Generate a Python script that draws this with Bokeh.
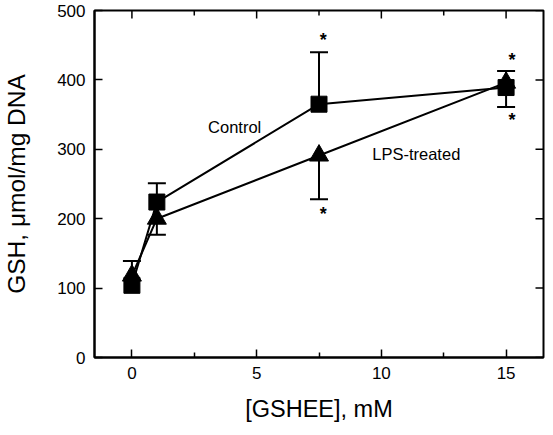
import math
from bokeh.plotting import figure
from bokeh.models import ColumnDataSource, Whisker, TeeHead, FixedTicker
from bokeh.core.properties import value
from bokeh.embed import file_html
from bokeh.resources import INLINE

# ---- data ----
conc = [0, 1, 7.5, 15]
control = [104, 224, 365, 389]
control_err_up = [35, 27, 75, 24]
lps = [118, 200, 291, 396]
lps_err_down = [0, 23, 63, 35]

star_x = [7.67, 7.67, 15.24, 15.24]
star_y = [458, 207, 428, 342]

label_text = ["Control", "LPS-treated"]
label_x = [4.12, 11.4]
label_y = [332, 293]

x_ticks = [0, 5, 10, 15]
x_minor = [2.5, 7.5, 12.5]
y_ticks = [0, 100, 200, 300, 400, 500]
X_RANGE = (-1.5, 16.5)
Y_RANGE = (0, 500)

FONT = "Liberation Sans"

p = figure(width=545, height=427, x_range=X_RANGE, y_range=Y_RANGE,
           output_backend="svg", toolbar_location=None,
           min_border_left=93, min_border_right=2, min_border_top=10, min_border_bottom=70)
p.xgrid.visible = False
p.ygrid.visible = False
p.outline_line_color = "black"
p.outline_line_width = 2
p.background_fill_color = "white"
p.border_fill_color = "white"

for ax in (p.xaxis[0], p.yaxis[0]):
    ax.axis_line_width = 2
    ax.major_tick_in = 8
    ax.major_tick_out = 0
    ax.minor_tick_in = 5
    ax.minor_tick_out = 0
    ax.major_tick_line_width = 1.5
    ax.minor_tick_line_width = 1.5
    ax.major_label_text_font = FONT
    ax.major_label_text_font_size = "17px"
    ax.major_label_text_color = "black"
    ax.axis_label_text_font = FONT
    ax.axis_label_text_font_style = "normal"
    ax.axis_label_text_color = "black"

p.xaxis[0].ticker = FixedTicker(ticks=x_ticks, minor_ticks=x_minor)
p.yaxis[0].ticker = FixedTicker(ticks=y_ticks, minor_ticks=[])
p.xaxis[0].axis_label = "[GSHEE], mM"
p.yaxis[0].axis_label = "GSH, μmol/mg DNA"
p.xaxis[0].axis_label_text_font_size = "23.5px"
p.yaxis[0].axis_label_text_font_size = "24.5px"
p.xaxis[0].major_label_standoff = 9
p.yaxis[0].major_label_standoff = 9
p.xaxis[0].axis_label_standoff = 14
p.yaxis[0].axis_label_standoff = 24

# mirrored inward ticks on top and right edges (no labels)
top_x = x_ticks + x_minor
top_len = [8] * len(x_ticks) + [5] * len(x_minor)
p.ray(x=top_x, y=[Y_RANGE[1]] * len(top_x), length=top_len, length_units="screen",
      angle=-math.pi / 2, line_color="black", line_width=1.5)
p.ray(x=[X_RANGE[1]] * len(y_ticks), y=y_ticks, length=8, length_units="screen",
      angle=math.pi, line_color="black", line_width=1.5)

# ---- error bars ----
c_src = ColumnDataSource(dict(x=conc, lower=control,
                              upper=[v + e for v, e in zip(control, control_err_up)]))
p.add_layout(Whisker(source=c_src, base="x", lower="lower", upper="upper",
                     line_width=2, line_color="black",
                     upper_head=TeeHead(size=18, line_width=2, line_color="black"),
                     lower_head=None))
keep = [i for i, e in enumerate(lps_err_down) if e > 0]
l_src = ColumnDataSource(dict(x=[conc[i] for i in keep], upper=[lps[i] for i in keep],
                              lower=[lps[i] - lps_err_down[i] for i in keep]))
p.add_layout(Whisker(source=l_src, base="x", lower="lower", upper="upper",
                     line_width=2, line_color="black",
                     lower_head=TeeHead(size=18, line_width=2, line_color="black"),
                     upper_head=None))

# ---- series ----
p.line(conc, control, line_width=2, line_color="black")
p.line(conc, lps, line_width=2, line_color="black")
p.scatter(conc, control, marker="square", size=16, fill_color="black", line_color="black")
p.scatter(conc, lps, marker="triangle", size=19, fill_color="black", line_color="black")

# ---- annotations ----
p.text(x=star_x, y=star_y, text=["*"] * len(star_x), text_font=value(FONT),
       text_font_size="18px", text_font_style="bold", text_align="center",
       text_baseline="middle", text_color="black")
p.text(x=label_x, y=label_y, text=label_text, text_font=value(FONT),
       text_font_size="16.5px", text_align="center", text_baseline="middle",
       text_color="black")

open("out.html", "w").write(file_html(p, INLINE))
